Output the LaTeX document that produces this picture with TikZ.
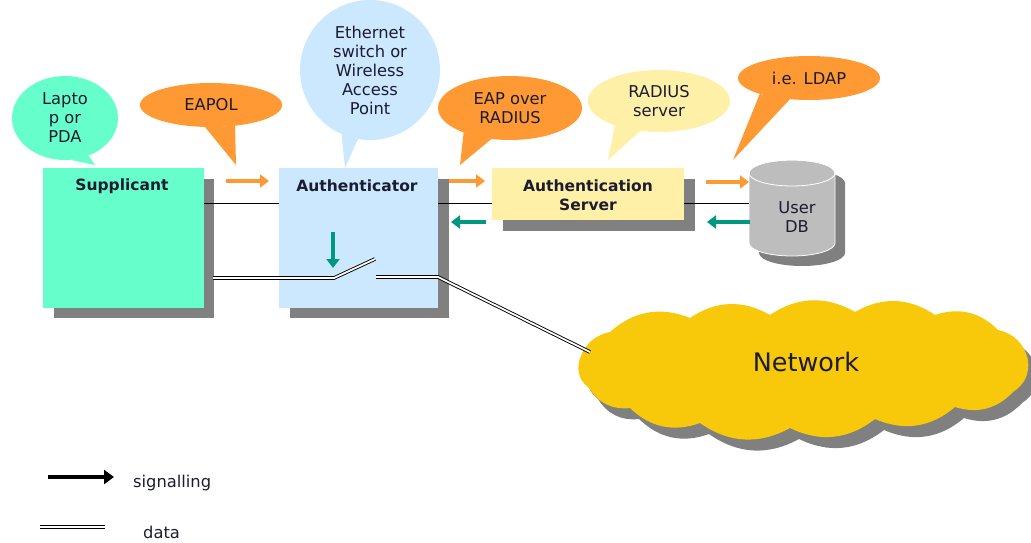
\documentclass[tikz,border=0pt]{standalone}
\usepackage{fontspec}
\setmainfont{DejaVu Sans}
\usetikzlibrary{shapes.geometric,arrows.meta,calc}
\definecolor{sgreen}{HTML}{66FFCC}
\definecolor{ablue}{HTML}{CCE8FF}
\definecolor{syellow}{HTML}{FFF0A8}
\definecolor{borange}{HTML}{FF9933}
\definecolor{tealarrow}{HTML}{009980}
\definecolor{shadowgray}{HTML}{808080}
\definecolor{netyellow}{HTML}{F8C80A}
\definecolor{dbgray}{HTML}{BDBDBD}
\definecolor{txt}{HTML}{1C1C30}
\begin{document}
\begin{tikzpicture}[x=1pt,y=1pt,
  boxshape/.style={inner sep=0, anchor=north west, draw=none},
  boxlabel/.style={font=\fontsize{15.5}{19}\selectfont\bfseries, align=center, text=txt, inner sep=0},
  bubble/.style={ellipse, inner sep=0, draw=none, align=center, text=txt, font=\fontsize{16.3}{19}\selectfont},
  oarrow/.style={draw=borange, line width=3.5pt, -{Triangle[length=9pt,width=13pt]}},
  tarrow/.style={draw=tealarrow, line width=3.5pt, -{Triangle[length=9pt,width=13pt]}},
  sigline/.style={draw=black, line width=1pt},
  dataline/.style={draw=black, double=white, double distance=1.8pt, line width=0.9pt},
  puff/.style={bend left=32}
]
\useasboundingbox (0,0) rectangle (1031,-543);

\newcommand{\cloudpath}{(579,-362) to[puff] (610,-332) to[puff] (690,-318) to[puff] (770,-315) to[puff] (855,-312) to[puff] (935,-315) to[puff] (998,-330) to[puff] (1028,-360) to[puff] (1013,-392) to[puff] (955,-407) to[puff] (875,-419) to[puff] (790,-428) to[puff] (700,-423) to[puff] (630,-408) to[puff] (589,-388) to[puff] cycle}

% shadows
\node[boxshape, fill=shadowgray, minimum width=160, minimum height=139] (supsh) at (54,-179) {};
\node[boxshape, fill=shadowgray, minimum width=159, minimum height=139] (authsh) at (290,-179) {};
\node[boxshape, fill=shadowgray, minimum width=192, minimum height=52] (srvsh) at (503,-179) {};
\fill[shadowgray] (759,-183) -- (759,-253) arc[start angle=180,end angle=360,x radius=43,y radius=13] -- (845,-183) arc[start angle=0,end angle=180,x radius=43,y radius=13] -- cycle;
\begin{scope}[shift={(9,-11)}]
\fill[shadowgray] \cloudpath;
\end{scope}

% boxes
\node[boxshape, fill=sgreen, minimum width=161, minimum height=140] (sup) at (43,-168) {};
\node[boxshape, fill=ablue, minimum width=159, minimum height=140] (auth) at (279,-168) {};
\node[boxshape, fill=syellow, minimum width=192, minimum height=52] (srv) at (492,-168) {};
\node[boxlabel] (supl) at (122,-186) {Supplicant};
\node[boxlabel] (authl) at (357,-186) {Authenticator};
\node[boxlabel] (srvl) at (588,-195) {Authentication\\Server};

% user DB cylinder
\filldraw[fill=dbgray, draw=white, line width=0.8pt] (749,-173) -- (749,-243) arc[start angle=180,end angle=360,x radius=43,y radius=13] -- (835,-173) arc[start angle=0,end angle=180,x radius=43,y radius=13] -- cycle;
\draw[white, line width=0.8pt] (792,-173) ellipse[x radius=43, y radius=13];
\node[align=center, text=txt, font=\fontsize{16.3}{19}\selectfont, inner sep=0] (db) at (797,-217) {User\\DB};
\coordinate (dbw) at (749,-203);

% network cloud
\fill[netyellow] \cloudpath;
\node[font=\fontsize{25.5}{30}\selectfont, text=txt, inner sep=0] (net) at (806,-362) {Network};

% signalling lines
\draw[sigline] ($(sup.north east)+(0,-35)$) -- ($(auth.north west)+(0,-35)$);
\draw[sigline] ($(auth.north east)+(0,-35)$) -- ($(srv.north west)+(0,-35)$);
\draw[sigline] ($(srv.north east)+(0,-35)$) -- (dbw);

% data lines with switch
\coordinate (d0) at (213,-278);
\coordinate (swA) at (334,-278);
\coordinate (swB) at (375,-259);
\coordinate (swC) at (376,-277);
\coordinate (d1) at (438,-277);
\coordinate (netin) at (590,-352);
\draw[dataline] (d0) -- (swA) -- (swB);
\draw[dataline] (swC) -- (d1) -- (netin);

% arrows
\coordinate (o1a) at (226,-181); \coordinate (o1b) at (269,-181);
\coordinate (o2a) at (449,-181); \coordinate (o2b) at (485,-181);
\coordinate (o3a) at (706,-182); \coordinate (o3b) at (749,-182);
\draw[oarrow] (o1a) -- (o1b);
\draw[oarrow] (o2a) -- (o2b);
\draw[oarrow] (o3a) -- (o3b);
\coordinate (t1a) at (486,-222); \coordinate (t1b) at (451,-222);
\coordinate (t2a) at (750,-222); \coordinate (t2b) at (707,-222);
\coordinate (t3a) at (333,-232); \coordinate (t3b) at (333,-268);
\draw[tarrow] (t1a) -- (t1b);
\draw[tarrow] (t2a) -- (t2b);
\draw[tarrow] (t3a) -- (t3b);

% bubbles
\node[bubble, fill=sgreen, minimum width=106, minimum height=84] (b1) at (65,-118) {Lapto\\p or\\PDA};
\coordinate (b1t) at (95,-165);
\fill[sgreen] (b1.278) -- (b1t) -- (b1.302) -- cycle;

\node[bubble, fill=borange, minimum width=142, minimum height=44] (b2) at (211,-105) {EAPOL};
\coordinate (b2t) at (236,-165);
\fill[borange] (b2.255) -- (b2t) -- (b2.319) -- cycle;

\node[bubble, fill=ablue, minimum width=140, minimum height=140] (b3) at (370,-70) {Ethernet\\switch or\\Wireless\\Access\\Point};
\coordinate (b3t) at (345,-168);
\fill[ablue] (b3.246) -- (b3t) -- (b3.260) -- cycle;

\node[bubble, fill=borange, minimum width=144, minimum height=64] (b4) at (510,-108) {EAP over\\RADIUS};
\coordinate (b4t) at (460,-165);
\fill[borange] (b4.208) -- (b4t) -- (b4.239) -- cycle;

\node[bubble, fill=syellow, minimum width=142, minimum height=62] (b5) at (659,-101) {RADIUS\\server};
\coordinate (b5t) at (608,-160);
\fill[syellow] (b5.209) -- (b5t) -- (b5.238) -- cycle;

\node[bubble, fill=borange, minimum width=142, minimum height=44] (b6) at (809,-78) {i.e. LDAP};
\coordinate (b6t) at (733,-160);
\fill[borange] (b6.198) -- (b6t) -- (b6.228) -- cycle;

% legend
\coordinate (l1a) at (48,-477); \coordinate (l1b) at (114,-477);
\draw[draw=black, line width=4pt, -{Triangle[length=10pt,width=14pt]}] (l1a) -- (l1b);
\node[text=txt, font=\fontsize{16.3}{19}\selectfont, anchor=west, inner sep=0] (lsig) at (133,-483) {signalling};
\coordinate (l2a) at (40,-527); \coordinate (l2b) at (105,-527);
\draw[dataline] (l2a) -- (l2b);
\node[text=txt, font=\fontsize{16.3}{19}\selectfont, anchor=west, inner sep=0] (ldata) at (143,-532) {data};
\end{tikzpicture}
\end{document}
